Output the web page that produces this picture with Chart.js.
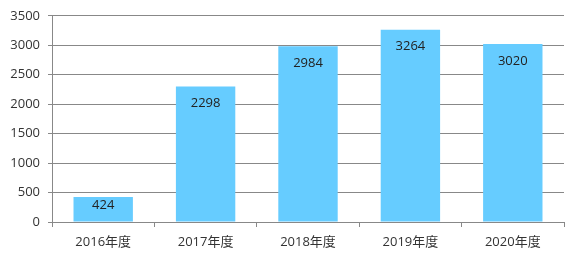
<!DOCTYPE html>
<html><head><meta charset="utf-8">
<script src="https://cdn.jsdelivr.net/npm/chart.js@4"></script>
<style>html,body{margin:0;padding:0;background:#fff;}#wrap{width:579px;height:262px;}</style>
</head><body><div id="wrap"><canvas id="c" width="579" height="262"></canvas></div>
<script>
const categories = ["2016年度","2017年度","2018年度","2019年度","2020年度"];
const values = [424, 2298, 2984, 3264, 3020];
const yTicks = [0,500,1000,1500,2000,2500,3000,3500];
const FONT = "'Open Sans','Noto Sans CJK JP',sans-serif";

const labelPlugin = {
  id: 'labels',
  afterDatasetsDraw(chart) {
    const ctx = chart.ctx;
    const meta = chart.getDatasetMeta(0);
    ctx.save();
    ctx.font = "13px " + FONT;
    ctx.fillStyle = "#222";
    ctx.textAlign = "center";
    ctx.textBaseline = "middle";
    meta.data.forEach((bar, i) => {
      const top = bar.y, bottom = bar.base;
      const y = Math.min(top + 17, (top + bottom) / 2 - 4);
      ctx.fillText(String(values[i]), bar.x, y);
    });
    ctx.restore();
  }
};

new Chart(document.getElementById('c'), {
  type: 'bar',
  data: { labels: categories, datasets: [{ data: values, backgroundColor: '#66CCFF', barPercentage: 0.58, categoryPercentage: 1.0 }] },
  options: {
    responsive: false, animation: false,
    layout: { padding: { top: 8, right: 15, left: 0, bottom: 0 } },
    plugins: { legend: { display: false }, tooltip: { enabled: false } },
    scales: {
      x: {
        grid: { display: true, drawOnChartArea: false, color: '#888', tickLength: 5, offset: true },
        border: { color: '#888' },
        ticks: { font: { family: FONT, size: 13 }, color: '#333', padding: 7 },
        afterFit(s) { s.height = 40; }
      },
      y: {
        min: 0, max: 3500,
        afterBuildTicks(s) { s.ticks = yTicks.map(v => ({ value: v })); },
        grid: { color: '#888', tickLength: 4 },
        border: { color: '#888' },
        ticks: { font: { family: FONT, size: 13 }, color: '#333', padding: 8, callback: v => String(v) },
        afterFit(s) { s.width = 52; }
      }
    }
  },
  plugins: [labelPlugin]
});
</script></body></html>
